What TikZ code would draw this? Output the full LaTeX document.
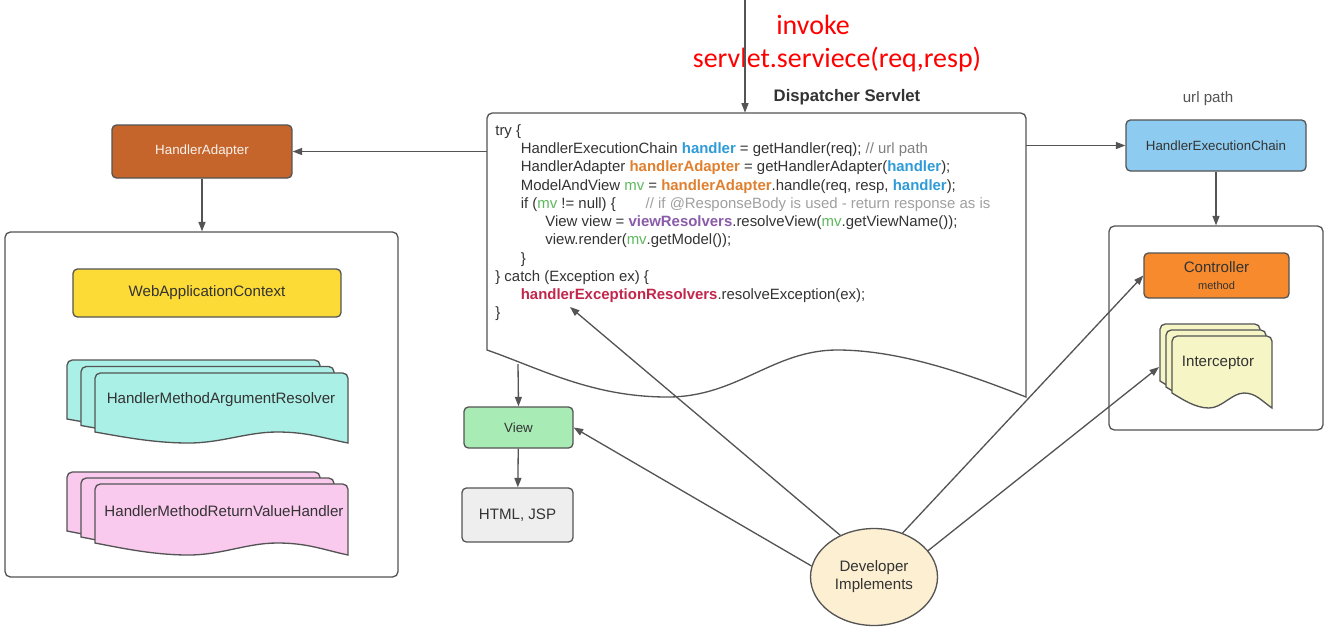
\documentclass[tikz,border=0pt]{standalone}
\usepackage{fontspec}
\setmainfont{Liberation Sans}
\newfontfamily\redfont{Carlito}
\usepackage{tikz}
\usetikzlibrary{shapes.geometric, arrows.meta, positioning, calc}
\definecolor{edgegray}{HTML}{545454}
\definecolor{inktext}{HTML}{333333}
\definecolor{adapterbrown}{HTML}{C6652B}
\definecolor{contextyellow}{HTML}{FDDB36}
\definecolor{resolveraqua}{HTML}{AAF0E6}
\definecolor{returnpink}{HTML}{F9C9EE}
\definecolor{viewgreen}{HTML}{A8EBB4}
\definecolor{htmlgray}{HTML}{EEEEEE}
\definecolor{chainblue}{HTML}{8DCCF0}
\definecolor{ctrlorange}{HTML}{F78A2C}
\definecolor{interyellow}{HTML}{F6F5C6}
\definecolor{devcream}{HTML}{FCEFD2}
\definecolor{codeblue}{HTML}{2E9BD8}
\definecolor{codeorange}{HTML}{E0802F}
\definecolor{codegreen}{HTML}{5DB85D}
\definecolor{codepurple}{HTML}{8A5BA8}
\definecolor{codecrimson}{HTML}{C2264B}
\definecolor{codecomment}{HTML}{A0A0A0}
\tikzset{
  lbl/.style={font=\fontsize{8.6}{10.2}\selectfont, text=inktext},
  lblsmall/.style={font=\fontsize{7.6}{9}\selectfont, text=inktext},
  redtxt/.style={font=\redfont\fontsize{15.9}{19}\selectfont, text=red},
  card/.style={draw=edgegray, fill=#1, rounded corners=2.5pt, line width=0.75pt,
               align=center, inner sep=2pt},
  panel/.style={draw=edgegray, fill=white, rounded corners=3pt, line width=0.75pt},
  sheet/.style={draw=edgegray, fill=#1, line width=0.75pt},
  flow/.style={-{Triangle[length=1.9mm,width=1.4mm]}, line width=0.75pt, color=edgegray},
  code/.style={font=\fontsize{8.5}{10.4}\selectfont, text=inktext, align=left, inner sep=0pt},
}
\newcommand\hl[2]{\textcolor{#1}{\textbf{#2}}}
% paper sheet with a wavy bottom edge: x1, y1 (top left), x2, y2 (bottom right), wave depth, crest fraction
\newcommand\docshape[7][]{%
  \pgfmathsetmacro\dw{#4-#2}%
  \pgfmathsetmacro\crestfrac{#7}%
  \pgfmathsetmacro\troughfrac{#7/2+0.01}%
  \draw[#1] (#2,#5-#6) [rounded corners=3pt] -- (#2,#3) -- (#4,#3) [sharp corners] -- (#4,#5)
    .. controls (#4-0.1*\dw,#5-0.45*#6) and (#2+\crestfrac*\dw+0.12*\dw,#5-#6) .. (#2+\crestfrac*\dw,#5-#6)
    .. controls (#2+\crestfrac*\dw-0.12*\dw,#5-#6) and (#2+\troughfrac*\dw+0.13*\dw,#5) .. (#2+\troughfrac*\dw,#5)
    .. controls (#2+\troughfrac*\dw-0.14*\dw,#5) and (#2+0.1*\dw,#5-0.6*#6) .. cycle;}
% three stacked sheets, shifted by dx, dy
\newcommand\docstack[8]{%
  \docshape[sheet=#1, shift={(-2*#7,-2*#8)}]{#2}{#3}{#4}{#5}{#6}{0.72}
  \docshape[sheet=#1, shift={(-#7,-#8)}]{#2}{#3}{#4}{#5}{#6}{0.72}
  \docshape[sheet=#1]{#2}{#3}{#4}{#5}{#6}{0.72}}

\begin{document}
\begin{tikzpicture}[x=0.02cm, y=-0.02cm]
  \useasboundingbox[fill=white] (0,0) rectangle (1331,630);

  % request
  \node[redtxt] (invoke) at (813,25) {invoke};
  \node[redtxt] (service) at (837,60) {servlet.serviece(req,resp)};
  \coordinate (entry) at (745,0);

  % dispatcher servlet
  \docshape[sheet=white]{487}{113}{1026}{397}{47}{0.65}
  \node[minimum width=10.78cm, minimum height=5.68cm, inner sep=0pt] (disp) at (756.5,255) {};
  \node[font=\fontsize{9.5}{11}\selectfont\bfseries, text=inktext] (disptitle) at (847,97) {Dispatcher Servlet};
  \node[code, anchor=north west] (code) at (495,124) {try \{\\
    \hspace*{14.5pt}HandlerExecutionChain \hl{codeblue}{handler} = getHandler(req); \textcolor{gray}{// url path}\\
    \hspace*{14.5pt}HandlerAdapter \hl{codeorange}{handlerAdapter} = getHandlerAdapter(\hl{codeblue}{handler});\\
    \hspace*{14.5pt}ModelAndView \textcolor{codegreen}{mv} = \hl{codeorange}{handlerAdapter}.handle(req, resp, \hl{codeblue}{handler});\\
    \hspace*{14.5pt}if (\textcolor{codegreen}{mv} != null) \{\hspace{17pt}\textcolor{codecomment}{// if @ResponseBody is used - return response as is}\\
    \hspace*{28.5pt}View view = \hl{codepurple}{viewResolvers}.resolveView(\textcolor{codegreen}{mv}.getViewName());\\
    \hspace*{28.5pt}view.render(\textcolor{codegreen}{mv}.getModel());\\
    \hspace*{14.5pt}\}\\
    \} catch (Exception ex) \{\\
    \hspace*{14.5pt}\hl{codecrimson}{handlerExceptionResolvers}.resolveException(ex);\\
    \}};
  \coordinate (herx) at (570,307);
  \coordinate (dispwave) at (518,364);

  % adapter side
  \node[card=adapterbrown, lblsmall, text=white!92!adapterbrown, minimum width=3.6cm, minimum height=1.06cm] (adapter) at (202,151.5) {HandlerAdapter};
  \node[panel, minimum width=7.86cm, minimum height=6.9cm] (ctxpanel) at (201.5,404.5) {};
  \node[card=contextyellow, lbl, minimum width=5.36cm, minimum height=0.96cm] (webctx) at (207,293) {WebApplicationContext};
  \docstack{resolveraqua}{95}{373}{348}{443}{11}{14}{6.5}
  \node[lbl] (argres) at (221,400) {HandlerMethodArgumentResolver};
  \docstack{returnpink}{95}{484}{348}{555}{12}{14}{6}
  \node[lbl] (retval) at (224,511) {HandlerMethodReturnValueHandler};

  % handler side
  \node[lbl, text=edgegray] (urlpath) at (1208,99) {url path};
  \node[card=chainblue, lblsmall, minimum width=3.6cm, minimum height=1.02cm] (chain) at (1216,145.5) {HandlerExecutionChain};
  \node[panel, minimum width=4.28cm, minimum height=4.08cm] (beanpanel) at (1216,328) {};
  \node[card=ctrlorange, lbl, minimum width=2.9cm, minimum height=0.9cm] (ctrl) at (1216.5,275.5) {Controller\\[-1pt]{\fontsize{6.3}{7}\selectfont method}};
  \docstack{interyellow}{1172}{336}{1272}{408}{15}{6}{6}
  \node[lbl] (intc) at (1218,363) {Interceptor};
  \coordinate (intcin) at (1159,367);

  % view and developer
  \node[card=viewgreen, lblsmall, minimum width=2.18cm, minimum height=0.82cm] (view) at (518.5,427.5) {View};
  \node[card=htmlgray, lbl, minimum width=2.22cm, minimum height=1.08cm] (html) at (517.5,515) {HTML, JSP};
  \node[ellipse, draw=edgegray, fill=devcream, line width=0.75pt, lbl, align=center,
        minimum width=2.16cm, minimum height=1.94cm] (dev) at (874,577) {Developer\\Implements};

  \draw[flow] (entry) -- (entry |- disp.north);
  \draw[flow] (disp.west |- adapter) -- (adapter.east);
  \draw[flow] (disp.east |- chain) -- (chain.west);
  \draw[flow] (adapter.south) -- (adapter.south |- ctxpanel.north);
  \draw[flow] (chain.south) -- (chain.south |- beanpanel.north);
  \draw[flow] (dispwave) -- (view.north);
  \draw[flow] (view) -- (html);
  \draw[flow] (dev.170) -- (view.east);
  \draw[flow] (dev.129) -- (herx);
  \draw[flow] (dev.57) -- (ctrl.west);
  \draw[flow] (dev.26) -- (intcin);
\end{tikzpicture}
\end{document}
